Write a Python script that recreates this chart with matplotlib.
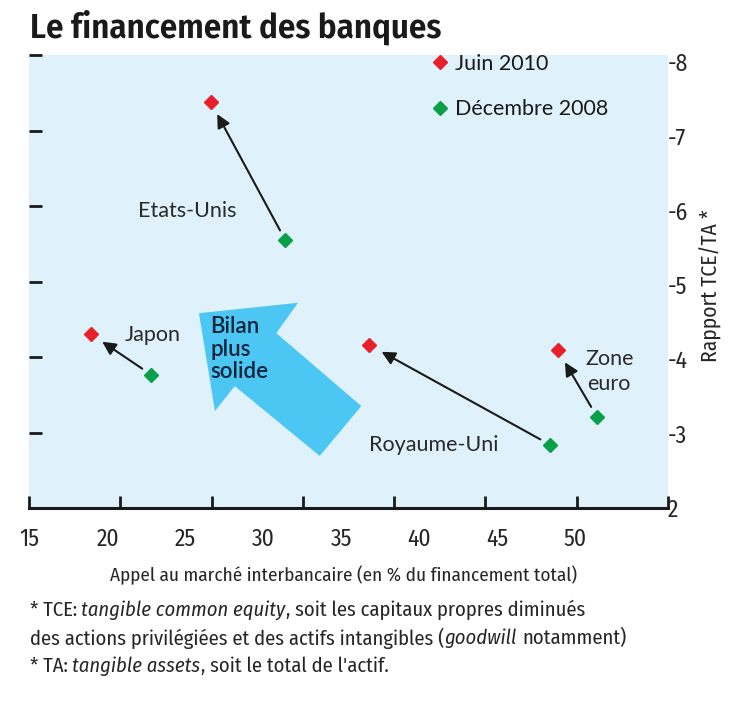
import matplotlib
matplotlib.use("Agg")
import matplotlib.pyplot as plt
from matplotlib.patches import Polygon
from matplotlib.text import Annotation
import numpy as np

# data
countries = ["Etats-Unis", "Japon", "Royaume-Uni", "Zone\neuro"]
interbank_2008 = [31.4, 22.8, 48.4, 51.4]
ratio_2008 = [5.60, 3.79, 2.85, 3.23]
interbank_2010 = [26.6, 18.9, 36.8, 48.9]
ratio_2010 = [7.46, 4.34, 4.19, 4.12]

x_ticks = [15, 20, 25, 30, 35, 40, 45, 50]
y_ticks = [2, 3, 4, 5, 6, 7, 8]
y_ticklabels = ["2", "-3", "-4", "-5", "-6", "-7", "-8"]

# country label positions (data coords)
label_pos = [(25.1, 5.99), (22.9, 4.33), (40.9, 2.85), (52.2, 3.83)]

RED = "#e8202a"
GREEN = "#0aa04a"
BG = "#dff1fb"
BLUE = "#4cc6f2"
TXT = "#262626"
COND = ["Fira Sans Condensed", "DejaVu Sans"]
HUM = ["Lato", "DejaVu Sans"]

fig = plt.figure(figsize=(7.48, 7.13), dpi=100)
ax = fig.add_axes([29 / 748, 1 - 508 / 713, 639 / 748, 453 / 713])
ax.set_facecolor(BG)

xmin, xmax = 14.94, 55.97
ymin, ymax = 2.0, 8.09
ax.set_xlim(xmin, xmax)
ax.set_ylim(ymin, ymax)

for s in ["top", "left", "right"]:
    ax.spines[s].set_visible(False)
ax.spines["bottom"].set_linewidth(2.2)
ax.spines["bottom"].set_color("#1a1a1a")

# labelled ticks (no marks) and unlabelled marks at even spacing
ax.set_xticks(x_ticks)
ax.set_xticklabels([str(v) for v in x_ticks], fontsize=17, family=COND, color=TXT)
ax.set_xticks(np.linspace(xmin, xmax, 8), minor=True)
ax.tick_params(axis="x", which="major", length=0, pad=14)
ax.tick_params(axis="x", which="minor", direction="in", length=9, width=2, color="#1a1a1a")

ax.set_yticks(y_ticks)
ax.set_yticklabels(y_ticklabels, fontsize=17, family=COND, color=TXT)
ax.set_yticks(np.linspace(ymin, ymax, 7), minor=True)
ax.tick_params(axis="y", which="major", left=False, right=False,
               labelleft=False, labelright=True, length=0, pad=0)
ax.tick_params(axis="y", which="minor", left=True, right=False, direction="in",
               length=9.5, width=2, color="#1a1a1a")

# big "Bilan plus solide" arrow
arrow_shape = [(0.266, 0.430), (0.421, 0.453), (0.387, 0.386), (0.520, 0.225),
               (0.455, 0.115), (0.322, 0.269), (0.291, 0.214)]
ax.add_patch(Polygon(arrow_shape, closed=True, transform=ax.transAxes,
                     facecolor=BLUE, edgecolor="none", zorder=1))
ax.text(0.284, 0.424, "Bilan\nplus\nsolide", transform=ax.transAxes, va="top", ha="left",
        fontsize=16, family=HUM, fontweight="semibold", color="#16233d",
        linespacing=1.1, zorder=2)

# movement arrows
for x0, y0, x1, y1 in zip(interbank_2008, ratio_2008, interbank_2010, ratio_2010):
    ax.annotate("", xy=(x1, y1), xytext=(x0, y0),
                arrowprops=dict(arrowstyle="-|>", color="#1a1a1a", lw=1.5,
                                mutation_scale=20, shrinkA=8, shrinkB=10),
                zorder=3)

ax.plot(interbank_2010, ratio_2010, "D", color=RED, markersize=7.5, ls="none",
        label="Juin 2010", zorder=4)
ax.plot(interbank_2008, ratio_2008, "D", color=GREEN, markersize=7.5, ls="none",
        label="Décembre 2008", zorder=4)

for name, (lx, ly) in zip(countries, label_pos):
    ax.text(lx, ly, name, ha="center", va="center", multialignment="center",
            fontsize=15.5, family=HUM, color="#2a2a2a", zorder=2, linespacing=1.3)

leg = ax.legend(loc="upper left", bbox_to_anchor=(0.610, 1.027), frameon=False,
                handlelength=1.0, handletextpad=0.2, labelspacing=1.19,
                borderpad=0, prop={"family": HUM, "size": 15.5})
for t in leg.get_texts():
    t.set_color("#1a1a1a")

# titles and labels
fig.text(30 / 748, 1 - 27 / 713, "Le financement des banques", fontsize=25,
         family=COND, fontweight="semibold", color="#1a1a1a", va="center", ha="left")
fig.text(344 / 748, 1 - 575 / 713,
         "Appel au marché interbancaire (en % du financement total)",
         fontsize=13.8, family=COND, color=TXT, ha="center", va="center")
fig.text(711 / 748, 1 - 286 / 713, "Rapport TCE/TA *", rotation=90, fontsize=15.5,
         family=COND, color=TXT, ha="center", va="center")

# footnote, pieces chained left to right
foot_lines = [
    [("* TCE: ", "normal"), ("tangible common equity", "italic"),
     (", soit les capitaux propres diminués", "normal")],
    [("des actions privilégiées et des actifs intangibles (", "normal"),
     ("goodwill", "italic"), (" notamment)", "normal")],
    [("* TA: ", "normal"), ("tangible assets", "italic"),
     (", soit le total de l'actif.", "normal")],
]
foot_y = [610, 638, 666]
for pieces, py in zip(foot_lines, foot_y):
    prev = None
    gap = 0.0
    for txt, style in pieces:
        lead = txt.startswith(" ")
        trail = txt.endswith(" ")
        clean = txt.strip(" ")
        if prev is None:
            prev = fig.text(30 / 748, 1 - py / 713, clean, fontsize=14.8, family=COND,
                            style=style, color=TXT, ha="left", va="center")
        else:
            dx = gap + (3.0 if lead else 0.0)
            prev = fig.add_artist(Annotation(
                clean, xy=(1, 0.5), xycoords=prev, xytext=(dx, 0),
                textcoords="offset points", fontsize=14.8, family=COND,
                style=style, color=TXT, ha="left", va="center"))
        gap = 3.0 if trail else 0.5

fig.savefig("out.png", dpi=100, facecolor="white")
